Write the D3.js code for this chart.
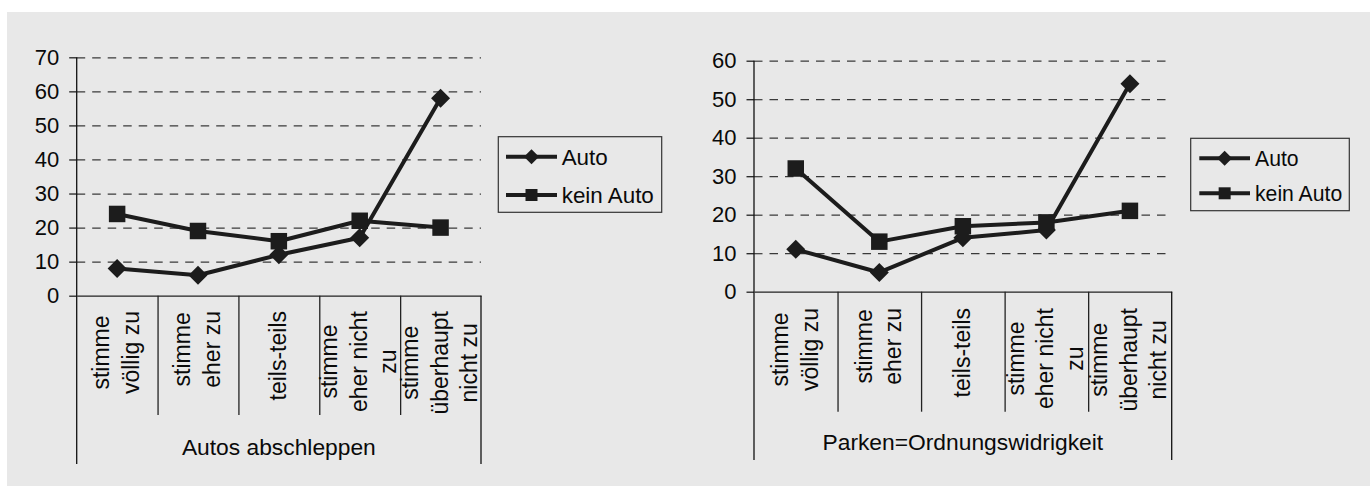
<!DOCTYPE html>
<html>
<head>
<meta charset="utf-8">
<script src="https://cdn.jsdelivr.net/npm/d3@7"></script>
<style>
  html, body { margin: 0; padding: 0; background: #ffffff; }
  svg { display: block; font-family: "Liberation Sans", Arial, sans-serif; }
</style>
</head>
<body>
<svg id="chart" width="1372" height="486"></svg>
<script>
// Answer categories shared by both panels
const categories = ["stimme völlig zu", "stimme eher zu", "teils-teils", "stimme eher nicht zu", "stimme überhaupt nicht zu"];
const seriesNames = ["Auto", "kein Auto"];

// Percentages per answer category
const abschleppenAuto = [8, 6, 12, 17, 58];
const abschleppenKeinAuto = [24, 19, 16, 22, 20];
const parkenAuto = [11, 5, 14, 16, 54];
const parkenKeinAuto = [32, 13, 17, 18, 21];

// Value axis ticks
const abschleppenTicks = [0, 10, 20, 30, 40, 50, 60, 70];
const parkenTicks = [0, 10, 20, 30, 40, 50, 60];

const groupLabels = ["Autos abschleppen", "Parken=Ordnungswidrigkeit"];

const TICK_FONT = 22;
const CAT_FONT = 23;
const TITLE_FONT = 22.8;
const INK = "#1c1c1c";
const TEXT = "#0a0a0a";

const svg = d3.select("#chart");
svg.append("rect").attr("x", 7).attr("y", 12).attr("width", 1363).attr("height", 474).attr("fill", "#e8e8e8");

// hidden text used to measure label widths for word wrapping
const meas = svg.append("text").attr("font-size", CAT_FONT).attr("visibility", "hidden");
function textWidth(s) { meas.text(s); return meas.node().getComputedTextLength(); }
function wrap(label, maxW) {
  const words = label.split(" ");
  const lines = [];
  let cur = "";
  words.forEach(w => {
    const t = cur ? cur + " " + w : w;
    if (cur && textWidth(t) > maxW) { lines.push(cur); cur = w; } else cur = t;
  });
  if (cur) lines.push(cur);
  return lines;
}

const panels = [
  { left: 76.7, right: 481, top: 57.3, bottom: 295.7, yMax: 70, ticks: abschleppenTicks,
    series: [abschleppenAuto, abschleppenKeinAuto], title: groupLabels[0],
    innerDrop: 415, outerDrop: 464, labelTop: 311, titleBase: 455,
    legend: { x: 498.3, y: 136.7, w: 163.4, h: 75.6, rows: [156.7, 195], l0: 506, l1: 557, tx: 561.7, font: 22.4 } },
  { left: 754, right: 1171.7, top: 60.7, bottom: 291.7, yMax: 60, ticks: parkenTicks,
    series: [parkenAuto, parkenKeinAuto], title: groupLabels[1],
    innerDrop: 411.7, outerDrop: 460, labelTop: 308, titleBase: 450,
    legend: { x: 1190.7, y: 138.3, w: 158.6, h: 72.4, rows: [158.3, 193.3], l0: 1199.3, l1: 1250, tx: 1255, font: 21.2 } }
];

const diamondPath = r => `M0,${-r}L${r},0L0,${r}L${-r},0Z`;
const squarePath = s => `M${-s/2},${-s/2}h${s}v${s}h${-s}Z`;
const markerPaths = [diamondPath, squarePath];
const markerSizes = [9.5, 16.5];
const legendMarkerSizes = [7.5, 12];

panels.forEach(p => {
  const g = svg.append("g");
  const y = d3.scaleLinear().domain([0, p.yMax]).range([p.bottom, p.top]);
  const x = d3.scaleBand().domain(categories).range([p.left, p.right]).padding(0);
  const xb = d3.scaleLinear().domain([0, categories.length]).range([p.left, p.right]);

  // dashed gridlines
  const grid = g.append("g").attr("transform", `translate(${p.left},0)`)
    .call(d3.axisLeft(y).tickValues(p.ticks.filter(t => t > 0)).tickSize(-(p.right - p.left)).tickFormat(""));
  grid.select(".domain").remove();
  grid.selectAll("line").attr("stroke", "#3a3a3a").attr("stroke-width", 1.2).attr("stroke-dasharray", "8.5,7");

  // value axis with labels
  const ya = g.append("g").attr("transform", `translate(${p.left},0)`)
    .call(d3.axisLeft(y).tickValues(p.ticks).tickSize(7.5).tickSizeOuter(0).tickPadding(10));
  ya.select(".domain").remove();
  ya.selectAll("line").attr("stroke", "#222").attr("stroke-width", 1.3);
  ya.selectAll("text").attr("font-size", TICK_FONT).attr("font-family", "Liberation Sans, Arial, sans-serif").attr("fill", TEXT);

  // category axis: baseline and dividers
  const xa = g.append("g").attr("transform", `translate(0,${p.bottom})`)
    .call(d3.axisBottom(xb).tickValues(d3.range(1, categories.length)).tickSize(p.innerDrop - p.bottom).tickSizeOuter(0).tickFormat(""));
  xa.select(".domain").attr("stroke", "#222").attr("stroke-width", 1.3);
  xa.selectAll("line").attr("stroke", "#222").attr("stroke-width", 1.3);
  [0, categories.length].forEach(i => {
    g.append("line").attr("x1", xb(i)).attr("x2", xb(i))
      .attr("y1", i === 0 ? p.top : p.bottom).attr("y2", p.outerDrop)
      .attr("stroke", "#111").attr("stroke-width", 1.3);
  });

  // rotated category labels
  categories.forEach(c => {
    const lines = wrap(c, 112);
    const maxLen = d3.max(lines, textWidth);
    const cx = x(c) + x.bandwidth() / 2;
    const cy = p.labelTop + maxLen / 2;
    const gap = 29.5;
    lines.forEach((ln, i) => {
      const bx = cx + 7 + (i - (lines.length - 1) / 2) * gap;
      g.append("text").attr("transform", `translate(${bx},${cy}) rotate(-90)`)
        .attr("text-anchor", "middle").attr("font-size", CAT_FONT).attr("fill", TEXT).text(ln);
    });
  });

  // group title
  g.append("text").attr("x", (p.left + p.right) / 2).attr("y", p.titleBase)
    .attr("text-anchor", "middle").attr("font-size", TITLE_FONT).attr("fill", TEXT).text(p.title);

  // series lines and markers
  const line = d3.line().x((d, i) => x(categories[i]) + x.bandwidth() / 2).y(d => y(d));
  p.series.forEach((vals, s) => {
    g.append("path").datum(vals).attr("d", line).attr("fill", "none")
      .attr("stroke", INK).attr("stroke-width", 4).attr("stroke-linejoin", "round");
    g.selectAll(null).data(vals).enter().append("path")
      .attr("transform", (d, i) => `translate(${x(categories[i]) + x.bandwidth() / 2},${y(d)})`)
      .attr("d", markerPaths[s](markerSizes[s])).attr("fill", INK);
  });

  // legend
  const L = p.legend;
  g.append("rect").attr("x", L.x).attr("y", L.y).attr("width", L.w).attr("height", L.h)
    .attr("fill", "none").attr("stroke", "#333").attr("stroke-width", 1.2);
  seriesNames.forEach((name, s) => {
    const ry = L.rows[s];
    g.append("line").attr("x1", L.l0).attr("x2", L.l1).attr("y1", ry).attr("y2", ry)
      .attr("stroke", INK).attr("stroke-width", 4);
    g.append("path").attr("transform", `translate(${(L.l0 + L.l1) / 2},${ry})`)
      .attr("d", markerPaths[s](legendMarkerSizes[s])).attr("fill", INK);
    g.append("text").attr("x", L.tx).attr("y", ry).attr("dy", "0.36em")
      .attr("font-size", L.font).attr("fill", TEXT).text(name);
  });
});
meas.remove();
</script>
</body>
</html>
